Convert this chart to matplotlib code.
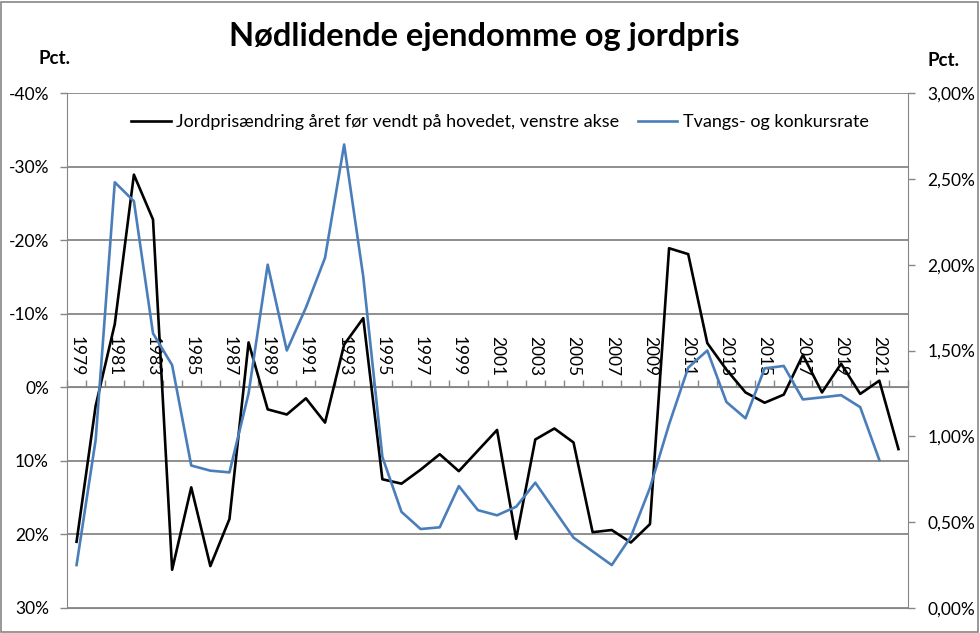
import matplotlib.pyplot as plt
import matplotlib.ticker as mticker
from matplotlib.patches import Rectangle
import numpy as np

plt.rcParams['font.family'] = ['Lato', 'DejaVu Sans']

# Data
aar = np.arange(1979, 2023)
# Jordprisændring året før (pct.), venstre akse (vendt)
jordpris = [21.0, 2.5, -8.6, -28.9, -22.8, 24.8, 13.6, 24.3, 17.9, -6.1,
            3.0, 3.7, 1.5, 4.8, -5.8, -9.4, 12.5, 13.1, 11.2, 9.1,
            11.4, 8.6, 5.8, 20.6, 7.1, 5.6, 7.5, 19.7, 19.4, 21.1,
            18.6, -18.9, -18.1, -6.0, -2.4, 0.7, 2.1, 1.0, -4.4, 0.7,
            -3.2, 0.9, -0.9, 8.4]
# Tvangs- og konkursrate (pct.), højre akse
tvang = [0.25, 0.98, 2.48, 2.37, 1.60, 1.415, 0.83, 0.80, 0.79, 1.25,
         2.00, 1.50, 1.75, 2.04, 2.70, 1.93, 0.88, 0.56, 0.46, 0.47,
         0.71, 0.57, 0.54, 0.59, 0.73, 0.57, 0.41, 0.33, 0.25, 0.415,
         0.70, 1.07, 1.40, 1.50, 1.20, 1.105, 1.396, 1.41, 1.215, 1.227,
         1.24, 1.17, 0.862, np.nan]

label_aar = np.arange(1979, 2022, 2)

gray = '#868686'

fig = plt.figure(figsize=(9.8, 6.33), dpi=100)
ax = fig.add_axes([67/980, 1 - 608/633, (908-67)/980, (608-93)/633])
ax2 = ax.twinx()

l1, = ax.plot(aar, jordpris, color='black', lw=1.9, zorder=3)
l2, = ax2.plot(aar, tvang, color='#4a7ebb', lw=1.9, zorder=3)

# venstre akse, vendt
ax.set_ylim(30, -40)
ax.set_yticks(np.arange(-40, 31, 10))
ax.yaxis.set_major_formatter(mticker.FuncFormatter(lambda v, p: '%d%%' % v))
ax.grid(axis='y', color=gray, lw=1.3)
ax.set_axisbelow(True)
ax.tick_params(axis='y', direction='out', length=5, color=gray, width=1,
               labelsize=12.5, pad=8, labelcolor='black')

# kategoriakse ved 0
ax.set_xlim(1978.5, 2022.5)
ax.xaxis.set_ticks_position('top')
ax.spines['top'].set_position(('data', 0))
ax.spines['top'].set_color(gray)
ax.set_xticks(label_aar)
ax.set_xticklabels([str(a) for a in label_aar], rotation=-90)
ax.set_xticks(np.arange(1978.5, 2023, 1), minor=True)
ax.tick_params(axis='x', which='major', length=0, pad=8, labelsize=12.5)
ax.tick_params(axis='x', which='minor', direction='out', length=5,
               color=gray, width=1)

for s in ['left', 'bottom']:
    ax.spines[s].set_color(gray)
ax.spines['right'].set_visible(False)

# højre akse
ax2.set_ylim(0, 3)
ax2.set_yticks(np.arange(0, 3.01, 0.5))
ax2.yaxis.set_major_formatter(
    mticker.FuncFormatter(lambda v, p: ('%.2f%%' % v).replace('.', ',')))
ax2.tick_params(axis='y', direction='out', length=5, color=gray, width=1,
                labelsize=12.5, pad=9)
for s in ['left', 'top', 'bottom']:
    ax2.spines[s].set_visible(False)
ax2.spines['right'].set_color(gray)

ax2.legend([l1, l2], ['Jordprisændring året før vendt på hovedet, venstre akse',
                      'Tvangs- og konkursrate'],
           loc='center', bbox_to_anchor=(500/980, 1 - 122/633),
           bbox_transform=fig.transFigure, ncol=2, frameon=False,
           fontsize=13, handlelength=2.2, handletextpad=0.3, columnspacing=1.0)

fig.text(484/980, 1 - 46/633, 'Nødlidende ejendomme og jordpris',
         ha='center', va='baseline', fontsize=23.5, fontweight='bold')
fig.text(54/980, 1 - 58/633, 'Pct.', ha='center', va='center',
         fontsize=13.5, fontweight='bold')
fig.text(943/980, 1 - 60/633, 'Pct.', ha='center', va='center',
         fontsize=13.5, fontweight='bold')

fig.patches.append(Rectangle((1/980, 1/633), 977/980, 630/633,
                             transform=fig.transFigure, fill=False,
                             edgecolor=gray, lw=1.2))

fig.savefig('out.png', dpi=100)
